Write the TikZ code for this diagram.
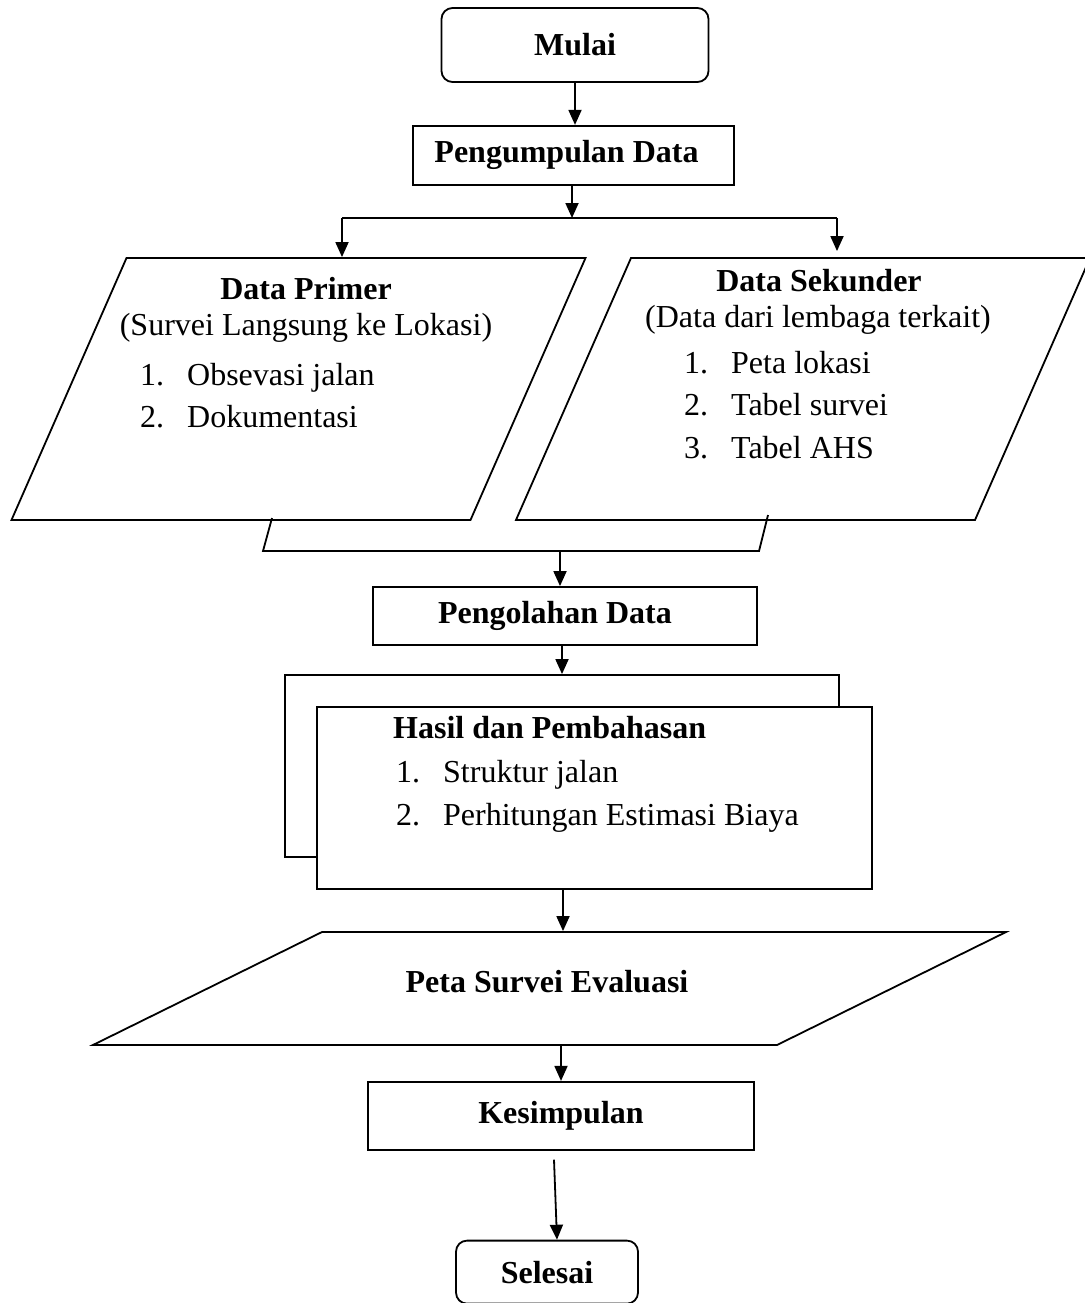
\documentclass[tikz,border=0pt]{standalone}
\usepackage{fontspec}
\setmainfont{Liberation Serif}
\usepackage{tikz}
\usetikzlibrary{shapes.geometric, arrows.meta, positioning}

\newcommand{\itemno}[1]{\makebox[47pt][l]{#1}}

\begin{document}
\begin{tikzpicture}[
			x=1pt, y=-1pt,
			font=\fontsize{32}{38}\selectfont,
			box/.style={rectangle, draw, line width=1.8pt, text centered, inner sep=0pt, font=\fontsize{32}{38}\selectfont\bfseries},
			term/.style={box, rounded corners=11pt},
			iobox/.style={trapezium, draw, line width=1.8pt},
			ttl/.style={anchor=base, inner sep=0pt, font=\fontsize{32}{38}\selectfont\bfseries},
			txt/.style={anchor=base, inner sep=0pt},
			itm/.style={anchor=base west, inner sep=0pt},
			arrow/.style={-{Triangle[width=13pt,length=15pt]}, line width=1.8pt},
			link/.style={line width=1.8pt}
			]
			\useasboundingbox (0,0) rectangle (1084,1303);
			% Nodes
			\node (mulai) [term, minimum width=267pt, minimum height=74pt] at (575,45) {Mulai};
			\node (kumpul) [box, below=42pt of mulai, xshift=-1.5pt, minimum width=321pt, minimum height=59pt] {Pengumpulan Data\hspace*{14pt}};
			\node (primer) [iobox, trapezium left angle=66.3, trapezium right angle=113.7, inner xsep=172pt, inner ysep=131pt] at (298.5,389) {};
			\node (sekunder) [iobox, trapezium left angle=66.3, trapezium right angle=113.7, inner xsep=172pt, inner ysep=131pt] at (803,389) {};
			\node (olah) [box, minimum width=384pt, minimum height=58pt] at (565,616) {Pengolahan Data\hspace*{20pt}};
			\node (hasilbg) [box, minimum width=554pt, minimum height=182pt] at (562,766) {};
			\node (hasil) [box, fill=white, below right=32pt and 32pt of hasilbg.north west, minimum width=555pt, minimum height=182pt] {};
			\node (peta) [iobox, trapezium left angle=26.26, trapezium right angle=153.74, inner xsep=227.5pt, inner ysep=56.5pt] at (549.5,988.5) {};
			\node (simpul) [box, below=35pt of peta, xshift=11.5pt, minimum width=386pt, minimum height=68pt] {Kesimpulan};
			\node (selesai) [term, below=89pt of simpul, xshift=-14pt, minimum width=182pt, minimum height=63pt] {Selesai};

			% Texts
			\node (primerT) [ttl] at (306,299) {Data Primer};
			\node (primerS) [txt] at (306,335) {(Survei Langsung ke Lokasi)};
			\node (primer1) [itm] at (140,385) {\itemno{1.}Obsevasi jalan};
			\node (primer2) [itm] at (140,427) {\itemno{2.}Dokumentasi};
			\node (sekunderT) [ttl] at (819,291) {Data Sekunder};
			\node (sekunderS) [txt] at (818,327) {(Data dari lembaga terkait)};
			\node (sekunder1) [itm] at (684,373) {\itemno{1.}Peta lokasi};
			\node (sekunder2) [itm] at (684,415) {\itemno{2.}Tabel survei};
			\node (sekunder3) [itm] at (684,458) {\itemno{3.}Tabel AHS};
			\node (hasilT) [ttl, anchor=base west] at (393,738) {Hasil dan Pembahasan};
			\node (hasil1) [itm] at (396,782) {\itemno{1.}Struktur jalan};
			\node (hasil2) [itm] at (396,825) {\itemno{2.}Perhitungan Estimasi Biaya};
			\node (petaT) [ttl] at (547,992) {Peta Survei Evaluasi};

			% Arrows
			\coordinate (split) at (572,218);
			\coordinate (splitL) at (342,218);
			\coordinate (splitR) at (837,218);
			\coordinate (joinL) at (272,518);
			\coordinate (joinLb) at (263,551);
			\coordinate (joinRb) at (759,551);
			\coordinate (joinR) at (768,515);
			\coordinate (join) at (560,551);
			\draw[arrow] (mulai.south) -- (mulai.south |- kumpul.north);
			\draw[arrow] ([xshift=-1.5pt]kumpul.south) -- (split);
			\draw[link] (splitL) -- (splitR);
			\draw[arrow] (splitL) -- (splitL |- primer.north);
			\draw[arrow] (splitR) -- ([yshift=6pt]splitR |- sekunder.north);
			\draw[link] (joinL) -- (joinLb) -- (joinRb) -- (joinR);
			\draw[arrow] (join) -- (join |- olah.north);
			\draw[arrow] ([xshift=-3pt]olah.south) -- ([xshift=-3pt]olah.south |- hasilbg.north);
			\draw[arrow] ([xshift=-31.5pt]hasil.south) -- ([xshift=-31.5pt]hasil.south |- peta.north);
			\draw[arrow] (simpul.north |- peta.south) -- (simpul.north);
			\draw[arrow] ([xshift=-7pt,yshift=-9pt]simpul.south) -- ([xshift=10pt]selesai.north);
		\end{tikzpicture}
\end{document}
